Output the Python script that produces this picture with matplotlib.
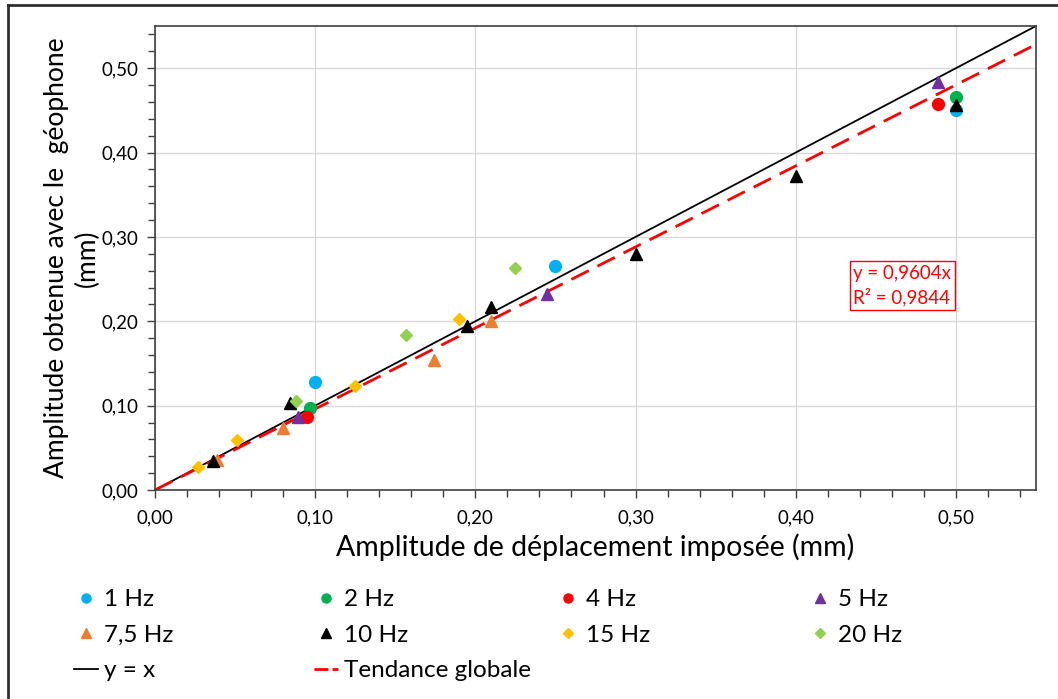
import matplotlib.pyplot as plt
import numpy as np
from matplotlib.lines import Line2D

plt.rcParams['font.family'] = ['Lato', 'DejaVu Sans']

# données (amplitude imposée, amplitude géophone) en mm
x_1hz = [0.100, 0.250, 0.500]
y_1hz = [0.128, 0.266, 0.451]
x_2hz = [0.097, 0.500]
y_2hz = [0.097, 0.466]
x_4hz = [0.095, 0.489]
y_4hz = [0.086, 0.457]
x_5hz = [0.089, 0.245, 0.489]
y_5hz = [0.087, 0.232, 0.484]
x_7hz = [0.039, 0.080, 0.174, 0.210]
y_7hz = [0.035, 0.074, 0.154, 0.200]
x_10hz = [0.036, 0.084, 0.195, 0.210, 0.300, 0.400, 0.500]
y_10hz = [0.034, 0.103, 0.194, 0.217, 0.280, 0.372, 0.456]
x_15hz = [0.027, 0.051, 0.125, 0.190]
y_15hz = [0.027, 0.059, 0.123, 0.203]
x_20hz = [0.088, 0.157, 0.225]
y_20hz = [0.106, 0.184, 0.263]

pente = 0.9604
r2 = 0.9844

series = [
    ("1 Hz", x_1hz, y_1hz, 'o', '#00B0F0', 8.5),
    ("2 Hz", x_2hz, y_2hz, 'o', '#00B050', 8.5),
    ("4 Hz", x_4hz, y_4hz, 'o', '#FF0000', 8.5),
    ("5 Hz", x_5hz, y_5hz, '^', '#7030A0', 8.5),
    ("7,5 Hz", x_7hz, y_7hz, '^', '#ED7D31', 8.5),
    ("10 Hz", x_10hz, y_10hz, '^', '#000000', 8.5),
    ("15 Hz", x_15hz, y_15hz, 'D', '#FFC000', 6.5),
    ("20 Hz", x_20hz, y_20hz, 'D', '#92D050', 6.5),
]

fig = plt.figure(figsize=(10.58, 6.99), dpi=100)
ax = fig.add_axes([155/1058, 1 - 490/699, (1036 - 155)/1058, (490 - 26)/699])

ax.grid(True, which='major', color='#D9D9D9', linewidth=1)
ax.set_axisbelow(True)

xx = np.array([0, 0.55])
ax.plot(xx, xx, color='black', linewidth=1.3, zorder=2)
ax.plot(xx, pente * xx, color='#FF0000', linewidth=2, dashes=(7, 3.5), zorder=2)

handles = {}
for nom, xs, ys, mk, col, ms in series:
    ax.plot(xs, ys, linestyle='none', marker=mk, color=col, markersize=ms, zorder=3)
    handles[nom] = Line2D([], [], linestyle='none', marker=mk, color=col,
                          markersize=6.5 if mk != 'D' else 5.5)

h_yx = Line2D([], [], color='black', linewidth=1.3)
h_tend = Line2D([], [], color='#FF0000', linewidth=2, dashes=(5, 1.5))

ax.set_xlim(0, 0.55)
ax.set_ylim(0, 0.55)
ticks = np.arange(0, 0.51, 0.1)
ax.set_xticks(ticks)
ax.set_yticks(ticks)
ax.set_xticks(np.arange(0, 0.551, 0.02), minor=True)
ax.set_yticks(np.arange(0, 0.551, 0.02), minor=True)
ax.set_xticklabels([f"{t:.2f}".replace('.', ',') for t in ticks])
ax.set_yticklabels([f"{t:.2f}".replace('.', ',') for t in ticks])
ax.tick_params(which='both', direction='out', colors='#404040', labelcolor='black',
               labelsize=13.5)
ax.tick_params(which='major', length=6, width=1)
ax.tick_params(which='minor', length=5, width=1)
ax.tick_params(axis='x', pad=8)
ax.tick_params(axis='y', pad=6)
for s in ax.spines.values():
    s.set_color('#404040')
    s.set_linewidth(1.2)

ax.set_xlabel("Amplitude de déplacement imposée (mm)", fontsize=20.5, labelpad=5)
ax.set_ylabel("Amplitude obtenue avec le  géophone\n(mm)", fontsize=19,
              labelpad=1, linespacing=1.3)

ax.text(0.436, 0.267, f"y = {pente:.4f}x\nR² = {r2:.4f}".replace('.', ','),
        color='#FF0000', fontsize=13.5, va='top', ha='left', linespacing=1.4,
        bbox=dict(boxstyle='square,pad=0.2', facecolor='white', edgecolor='#FF0000',
                  linewidth=1))

# légende : une colonne par position, comme dans Excel
colonnes = [
    ([handles["1 Hz"], handles["7,5 Hz"], h_yx], ["1 Hz", "7,5 Hz", "y = x"]),
    ([handles["2 Hz"], handles["10 Hz"], h_tend], ["2 Hz", "10 Hz", "Tendance globale"]),
    ([handles["4 Hz"], handles["15 Hz"]], ["4 Hz", "15 Hz"]),
    ([handles["5 Hz"], handles["20 Hz"]], ["5 Hz", "20 Hz"]),
]
x_col = [74, 314, 556, 808]
for (hs, ls), xc in zip(colonnes, x_col):
    fig.legend(hs, ls, loc='upper left', bbox_to_anchor=(xc/1058, 1 - 589/699),
               frameon=False, fontsize=17.5, handlelength=1.0, handletextpad=0.25,
               labelspacing=0.6, borderpad=0, borderaxespad=0)

# cadre extérieur (bord gauche et haut)
fig.add_artist(Line2D([8/1058, 8/1058], [0, 1 - 5/699], color='#303030', linewidth=2,
                      transform=fig.transFigure))
fig.add_artist(Line2D([8/1058, 1], [1 - 5/699, 1 - 5/699], color='#303030', linewidth=2,
                      transform=fig.transFigure))

fig.savefig("out.png", dpi=100)
